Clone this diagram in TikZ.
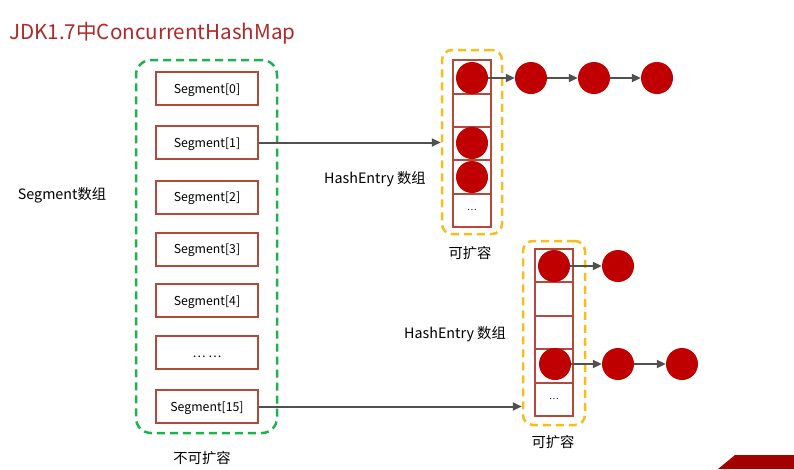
\documentclass[tikz,border=0pt]{standalone}
\usepackage{fontspec}
\setmainfont{Noto Sans CJK SC}
\usetikzlibrary{arrows.meta}
\definecolor{titlered}{HTML}{B0282A}
\definecolor{boxred}{HTML}{B24A3C}
\definecolor{dashgreen}{HTML}{22B04E}
\definecolor{dashyellow}{HTML}{F5BE1E}
\definecolor{dotred}{HTML}{C00000}
\definecolor{arrgray}{HTML}{505050}
\tikzset{
  segbox/.style={draw=boxred, line width=2pt, fill=white, minimum width=102pt, minimum height=33pt, inner sep=0pt, text height=10pt, text depth=1pt, font=\fontsize{12.3}{14}\selectfont},
  cellbox/.style={draw=boxred, line width=2pt, minimum width=38pt, minimum height=33.4pt, inner sep=0pt, font=\fontsize{9}{10}\selectfont},
  dot/.style={circle, fill=dotred, minimum size=32pt, inner sep=0pt},
  greenframe/.style={draw=dashgreen, line width=2.5pt, dash pattern=on 8pt off 5pt, rounded corners=15pt, inner sep=0pt},
  yellowframe/.style={draw=dashyellow, line width=2.5pt, dash pattern=on 8pt off 5pt, rounded corners=10pt, inner sep=0pt},
  arr/.style={draw=arrgray, line width=2pt, -{Triangle[length=9pt,width=8pt]}},
  lbl/.style={font=\fontsize{14.3}{17}\selectfont, inner sep=0pt}
}
\begin{document}
\begin{tikzpicture}[x=1pt,y=-1pt]
\useasboundingbox (0,0) rectangle (794,469);
\fill[white] (0,0) rectangle (794,469);

% title
\node[anchor=west, text=titlered, font=\fontsize{20.6}{24}\selectfont, inner sep=0pt] (title) at (9,33) {JDK1.7中ConcurrentHashMap};

% segment array frame
\node[greenframe, minimum width=141pt, minimum height=373pt] (segframe) at (206.5,246.5) {};
\node[segbox] (s0) at (207,88.5) {Segment[0]};
\node[segbox] (s1) at (207,142.5) {Segment[1]};
\node[segbox] (s2) at (207,197) {Segment[2]};
\node[segbox] (s3) at (207,249) {Segment[3]};
\node[segbox] (s4) at (207,300.5) {Segment[4]};
\node[segbox] (sdots) at (207,352.5) {… …};
\node[segbox] (s15) at (207,406.5) {Segment[15]};
\node[lbl] (segarr) at (62,195) {Segment数组};
\node[lbl] (nofix) at (202,458) {不可扩容};

% top HashEntry array
\node[yellowframe, minimum width=60pt, minimum height=184pt] (ya) at (472,142) {};
\node[cellbox] (a0) at (472,76.8) {};
\node[cellbox] (a1) at (472,110.2) {};
\node[cellbox] (a2) at (472,143.6) {};
\node[cellbox] (a3) at (472,177) {};
\node[cellbox] (a4) at (472,210.4) {…};
\node[dot] (ad0) at (472,78) {};
\node[dot] (ad2) at (472,143) {};
\node[dot] (ad3) at (472,177) {};
\node[dot] (b1) at (531,78) {};
\node[dot] (b2) at (594,78) {};
\node[dot] (b3) at (657,78) {};
\draw[arr] (ad0) -- (b1);
\draw[arr] (b1) -- (b2);
\draw[arr] (b2) -- (b3);
\node[lbl] (hea) at (375,179) {HashEntry 数组};
\node[lbl] (expa) at (470,253) {可扩容};
\draw[arr] (s1.east) -- (s1.east -| ya.west);

% bottom HashEntry array
\node[yellowframe, minimum width=62pt, minimum height=184pt] (yb) at (554,333) {};
\node[cellbox] (c0) at (554,265.6) {};
\node[cellbox] (c1) at (554,299) {};
\node[cellbox] (c2) at (554,332.4) {};
\node[cellbox] (c3) at (554,365.8) {};
\node[cellbox] (c4) at (554,399.2) {…};
\node[dot] (cd0) at (554,266) {};
\node[dot] (cd3) at (555,364) {};
\node[dot] (e1) at (618,266) {};
\node[dot] (f1) at (618,364) {};
\node[dot] (f2) at (682,364) {};
\draw[arr] (cd0) -- (e1);
\draw[arr] (cd3) -- (f1);
\draw[arr] (f1) -- (f2);
\node[lbl] (heb) at (455,334) {HashEntry 数组};
\node[lbl] (expb) at (553,442) {可扩容};
\draw[arr] (s15.east) -- (s15.east -| yb.west);

% corner banner
\fill[dotred!85!black] (718,469) -- (735,455) -- (794,455) -- (794,469) -- cycle;
\end{tikzpicture}
\end{document}
